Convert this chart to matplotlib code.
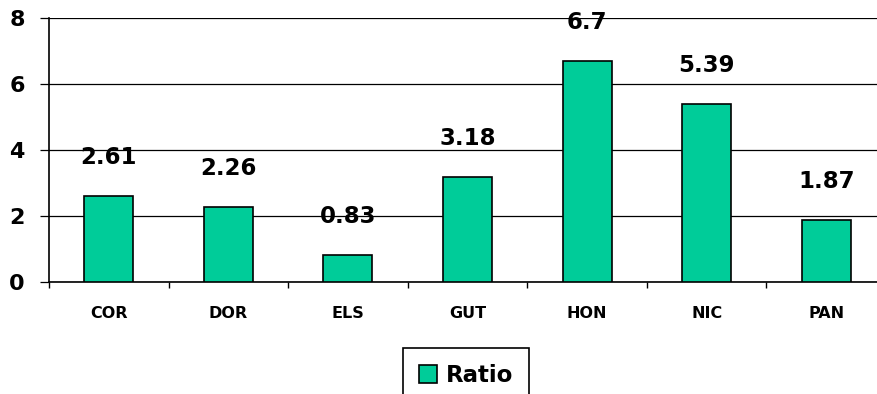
import matplotlib
matplotlib.use("Agg")
import matplotlib.pyplot as plt
import numpy as np
from matplotlib.ticker import FixedLocator

categories = ["COR", "DOR", "ELS", "GUT", "HON", "NIC", "PAN"]
ratio = [2.61, 2.26, 0.83, 3.18, 6.7, 5.39, 1.87]
value_labels = ["2.61", "2.26", "0.83", "3.18", "6.7", "5.39", "1.87"]
yticks = [0, 2, 4, 6, 8]

W, H = 877, 394
fig = plt.figure(figsize=(W / 100, H / 100), dpi=100)
ax = fig.add_axes([49 / W, (H - 282) / H, (886 - 49) / W, (282 - 18) / H])

x = np.arange(len(categories))
bars = ax.bar(x, ratio, width=0.41, color="#00CC99", edgecolor="black",
              linewidth=1.2, label="Ratio", zorder=3)

for xi, v, lab in zip(x, ratio, value_labels):
    ax.annotate(lab, (xi, v), xytext=(0, 27), textcoords="offset pixels",
                ha="center", va="bottom", fontsize=16.5, fontweight="bold",
                family="DejaVu Sans")

ax.set_xlim(-0.5, len(categories) - 0.5)
ax.set_ylim(0, 8)
ax.set_yticks(yticks)
ax.set_yticklabels([str(t) for t in yticks], fontsize=16, fontweight="bold")
ax.yaxis.grid(True, color="black", linewidth=0.9, zorder=0)
ax.set_axisbelow(True)

ax.set_xticks(x)
ax.set_xticklabels(categories, fontsize=11.5, fontweight="bold")
ax.xaxis.set_minor_locator(FixedLocator(np.arange(len(categories) + 1) - 0.5))
ax.tick_params(axis="x", which="major", length=0, pad=17)
ax.tick_params(axis="x", which="minor", length=4.3, width=1.0, direction="out")
ax.tick_params(axis="y", length=6.5, width=0.9, pad=11, direction="out")

for s in ["top", "right"]:
    ax.spines[s].set_visible(False)
ax.spines["left"].set_linewidth(1.2)
ax.spines["bottom"].set_linewidth(1.2)

leg = fig.legend(handles=[bars], labels=["Ratio"], loc="upper center",
                 bbox_to_anchor=(466 / W, 1 - 348 / H), borderaxespad=0,
                 prop={"size": 16.5, "weight": "bold"}, frameon=True,
                 fancybox=False, edgecolor="black", framealpha=1,
                 borderpad=0.7, handlelength=0.8, handleheight=0.8,
                 handletextpad=0.4)
leg.get_frame().set_linewidth(1.2)

fig.savefig("out.png", dpi=100)
